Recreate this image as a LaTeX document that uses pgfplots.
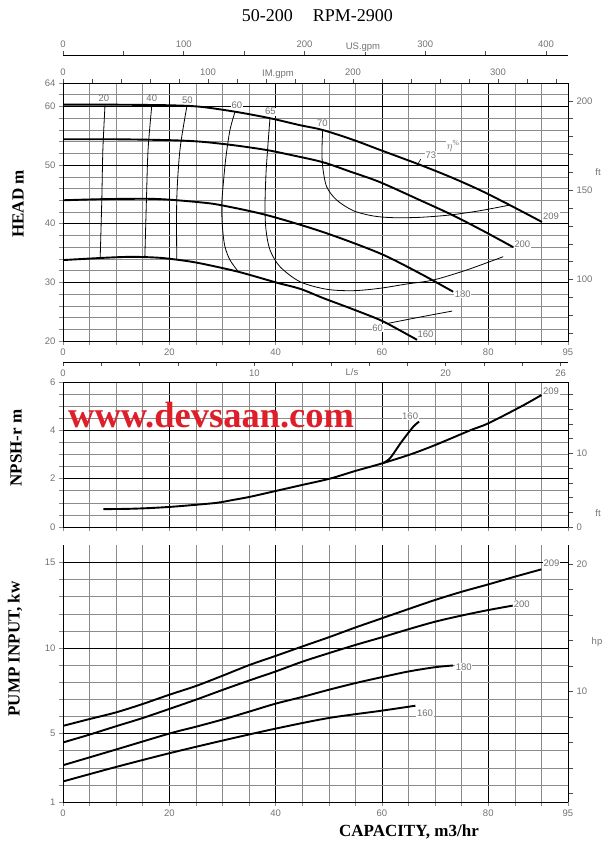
\documentclass[border=0pt]{standalone}
\usepackage{fontspec}
\setmainfont{Liberation Serif}
\newfontfamily\tickfont{Liberation Sans}
\usepackage{pgfplots}
\pgfplotsset{compat=1.18}
\definecolor{gridgray}{gray}{0.55}
\definecolor{labgray}{gray}{0.45}
\definecolor{wm}{RGB}{222,30,40}
\newcommand{\tf}{\tickfont\fontsize{9.5}{11}\selectfont}
\newcommand{\axlab}{\bfseries\fontsize{17}{17}\selectfont}
\tikzset{cl/.style={font=\tf, text=labgray, fill=white, inner sep=0.6pt}}
\pgfplotsset{
  base/.style={scale only axis, width=505pt, xmin=0, xmax=95,
    tick align=outside, major tick length=4pt, minor tick length=4pt,
    tick style={gridgray, line width=0.5pt},
    ticklabel style={font=\tf, text=labgray},
    /pgf/number format/assume math mode=true,
    /pgf/number format/1000 sep={}},
  panel/.style={base, xtick={0,20,40,60,80,95},
    minor xtick={5,10,15,25,30,35,45,50,55,65,70,75,85,90},
    grid=both, major grid style={black,line width=0.8pt},
    minor grid style={gridgray,line width=0.5pt},
    xtick pos=bottom, ytick pos=left,
    axis line style={black,line width=0.8pt}},
  sideax/.style={base, axis x line=none, axis y line*=right,
    y axis line style={black,line width=0.8pt,-},
    major tick length=5pt, minor tick length=5pt,
    tick style={black!70, line width=0.5pt}},
  topax/.style={base, height=1pt, ymin=0, ymax=1, axis y line=none,
    x axis line style={black, line width=0.8pt,-},
    tick style={black!70,line width=0.5pt}},
  pc/.style={black, line width=1.9pt, smooth, tension=0.5, no marks},
  ec/.style={black, line width=0.8pt, smooth, tension=0.5, no marks},
}
\begin{document}
\begin{tikzpicture}
\useasboundingbox (0pt,0pt) rectangle (614pt,856pt);

% ---------------- HEAD ----------------
\begin{axis}[panel, at={(63pt,515pt)}, anchor=south west, height=258pt,
  ymin=20, ymax=64, ytick={20,30,40,50,60,64},
  minor ytick={22,24,26,28,32,34,36,38,42,44,46,48,52,54,56,58,62}]
\addplot[pc] coordinates {(0,60.3)(10,60.3)(20,60.2)(25.8,59.95)(32.4,59.1)(38.9,58.0)(44.6,56.8)(48.8,56.0)(54.6,54.3)(59.6,52.6)(67,50.1)(72.8,48.0)(78.4,45.75)(84,43.2)(90.1,40.3)};
\addplot[pc] coordinates {(0,54.4)(10,54.4)(20,54.25)(25.8,54.0)(32,53.4)(38.3,52.57)(43,51.7)(48.85,50.5)(54,48.9)(59.6,47.1)(67.2,44.0)(73.2,41.5)(79,38.8)(84.7,36.0)};
\addplot[pc] coordinates {(0,44.0)(8,44.2)(16,44.25)(20,44.1)(25.8,43.65)(29.5,43.2)(38.2,41.5)(48.85,38.6)(59.6,34.95)(67.2,31.5)(73.4,28.4)};
\addplot[pc] coordinates {(0,33.8)(8,34.2)(13,34.35)(18,34.2)(22,33.8)(25.8,33.25)(33,31.8)(40.2,29.95)(44.6,28.9)(49,27.3)(54,25.6)(59.6,23.6)(63,22.0)(66.6,20.2)};
% efficiency
\addplot[ec] coordinates {(7.9,60.2)(7.5,52.6)(7.3,44.1)(7.0,34.3)};
\addplot[ec] coordinates {(16.7,60.1)(16.0,52.6)(15.7,44.2)(15.4,34.35)};
\addplot[ec] coordinates {(23.3,60.0)(22.0,52.6)(21.4,44.1)(21.4,33.85)};
\addplot[ec] coordinates {(32.36,59.10)(31.41,55.98)(30.66,51.43)(30.16,46.89)(29.85,42.90)(30.04,38.93)(30.47,36.08)(31.41,33.81)(32.98,31.82)};
\addplot[ec] coordinates {(61.1,23.0)(67,24.05)(73.2,25.1)};
\addplot[ec] coordinates {(38.94,57.98)(38.62,54.28)(38.19,48.60)(38.00,42.90)(38.19,38.93)(38.94,35.52)(40.82,32.67)(44.58,30.11)(49.6,28.82)(54.6,28.58)(59.63,28.99)(64.65,29.72)(69.66,30.40)(75.94,32.11)(82.83,34.38)};
\addplot[ec] coordinates {(48.85,55.98)(48.72,52.57)(48.85,49.72)(49.60,46.31)(51.48,44.04)(54.61,42.22)(58.37,41.32)(62.13,41.03)(67.16,41.09)(72.8,41.49)(78.44,42.22)(84.09,43.19)};
\draw[black, line width=0.6pt] (axis cs:67.3,51.0) -- (axis cs:66.7,50.1);
\node[cl] at (axis cs:7.7,61.35) {20};
\node[cl] at (axis cs:16.7,61.35) {40};
\node[cl] at (axis cs:23.4,61.1) {50};
\node[cl] at (axis cs:32.7,60.25) {60};
\node[cl] at (axis cs:39.0,59.1) {65};
\node[cl] at (axis cs:48.8,57.1) {70};
\node[cl] at (axis cs:69.2,51.7) {73};
\node[text=labgray, inner sep=0.5pt, fill=white, font=\fontsize{11}{11}\selectfont] at (axis cs:73.4,53.3) {$\eta^{\%}$};
\node[cl] at (axis cs:91.8,41.3) {209};
\node[cl] at (axis cs:86.4,36.5) {200};
\node[cl] at (axis cs:75.2,28.0) {180};
\node[cl] at (axis cs:68.2,21.2) {160};
\node[cl] at (axis cs:59.2,22.2) {60};
\node[font=\tf, text=labgray] at (axis cs:50,20) [yshift=-10pt] {m3/h};
\end{axis}
\begin{axis}[sideax, at={(63pt,515pt)}, anchor=south west, height=258pt,
  ymin=65.617, ymax=209.974, ytick={100,150,200},
  minor ytick={70,80,90,110,120,130,140,160,170,180,190}]
\end{axis}
\begin{axis}[base, at={(63pt,515pt)}, anchor=south west, height=258pt,
  xmax=348.29, ymin=0, ymax=1, axis y line=none, axis x line*=top,
  x axis line style={-,black,line width=0.8pt}, tick style={black!70,line width=0.5pt},
  xtick={0,100,200,300},
  minor xtick={20,40,60,80,120,140,160,180,220,240,260,280,320,340}]
\end{axis}
\begin{axis}[topax, at={(63pt,800pt)}, anchor=south west, xmax=418.27,
  axis x line*=top, xtick={0,100,200,300,400}, minor xtick={50,150,250,350}]
\end{axis}
\begin{axis}[topax, at={(63pt,494pt)}, anchor=south west, xmax=26.389,
  axis x line*=bottom, xtick={0,10,20,26}, minor xtick={2,4,6,8,12,14,16,18,22,24}]
\end{axis}

% ---------------- NPSH ----------------
\begin{axis}[panel, at={(63pt,329pt)}, anchor=south west, height=145pt,
  ymin=0, ymax=6, ytick={0,2,4,6},
  minor ytick={0.5,1,1.5,2.5,3,3.5,4.5,5,5.5}, xticklabels={}]
\node[anchor=base west, text=wm, font=\bfseries\fontsize{36.5}{36}\selectfont, inner sep=0pt] at (axis cs:0.94,4.1) {www.devsaan.com};
\addplot[pc] coordinates {(7.6,0.74)(12,0.75)(16,0.78)(20,0.83)(24,0.9)(28.9,1.0)(32,1.12)(35.2,1.25)(40.2,1.5)(45,1.74)(50.2,2.0)(55,2.32)(60,2.63)(65.3,3.0)(70,3.39)(76.6,4.0)(80,4.29)(86.3,5.0)(90,5.46)};
\addplot[pc] coordinates {(60,2.63)(61.5,2.84)(63.7,3.53)(65.9,4.15)(67.0,4.36)};
\node[cl] at (axis cs:65.3,4.58) {160};
\node[cl] at (axis cs:91.8,5.63) {209};
\end{axis}
\begin{axis}[sideax, at={(63pt,329pt)}, anchor=south west, height=145pt,
  ymin=0, ymax=19.685, ytick={0,10}, minor ytick={2,4,6,8,12,14,16,18}]
\end{axis}

% ---------------- POWER ----------------
\begin{axis}[panel, at={(63pt,54pt)}, anchor=south west, height=256.6pt,
  ymin=1, ymax=16, ytick={1,5,10,15},
  minor ytick={2,3,4,6,7,8,9,11,12,13,14},
  axis lines*=left, axis line style={-,black,line width=0.8pt}]
\addplot[pc] coordinates {(0,5.45)(5,5.85)(10,6.24)(15,6.73)(20,7.27)(25,7.78)(30,8.38)(35,9.0)(40,9.54)(45,10.09)(50,10.63)(55,11.2)(60,11.74)(65,12.28)(70,12.81)(75,13.29)(80,13.72)(85,14.17)(90,14.6)};
\addplot[pc] coordinates {(0,4.48)(5,4.94)(10,5.43)(15,5.91)(20,6.44)(25,6.98)(30,7.55)(35,8.1)(40,8.63)(45,9.2)(50,9.7)(55,10.18)(60,10.63)(65,11.1)(70,11.54)(75,11.9)(80,12.22)(84.6,12.48)};
\addplot[pc] coordinates {(0,3.15)(10,4.07)(20,5.0)(25,5.4)(30,5.82)(35,6.28)(40,6.75)(45,7.14)(50,7.56)(55,7.95)(60,8.3)(65,8.63)(70,8.88)(73.4,8.98)};
\addplot[pc] coordinates {(0,2.2)(10,3.05)(20,3.85)(30,4.59)(40,5.29)(50,5.91)(60,6.34)(66.3,6.63)};
\node[cl] at (axis cs:91.9,14.97) {209};
\node[cl] at (axis cs:86.3,12.57) {200};
\node[cl] at (axis cs:75.4,8.87) {180};
\node[cl] at (axis cs:68.1,6.2) {160};
\end{axis}
\begin{axis}[sideax, at={(63pt,54pt)}, anchor=south west, height=256.6pt,
  ymin=1.341, ymax=21.456, ytick={10,20}, minor ytick={2,4,6,8,12,14,16,18}]
\end{axis}

% ---------------- texts ----------------
\node[anchor=base west, font=\fontsize{18}{18}\selectfont, inner sep=0pt] at (241.7pt,834.3pt) {50-200};
\node[anchor=base west, font=\fontsize{18}{18}\selectfont, inner sep=0pt] at (312.7pt,834.3pt) {RPM-2900};
\node[rotate=90, font=\axlab] at (18pt,652pt) {HEAD m};
\node[rotate=90, font=\axlab] at (16pt,408pt) {NPSH-r m};
\node[rotate=90, font=\axlab] at (15pt,207pt) {PUMP INPUT, kw};
\node[anchor=base, font=\axlab, inner sep=0pt] at (409pt,19pt) {CAPACITY, m3/hr};
\node[font=\tf, text=labgray] at (598pt,684pt) {ft};
\node[font=\tf, text=labgray] at (598pt,343pt) {ft};
\node[font=\tf, text=labgray] at (597pt,214pt) {hp};
\node[font=\tf, text=labgray, fill=white, inner sep=1pt] at (363pt,809pt) {US.gpm};
\node[font=\tf, text=labgray, fill=white, inner sep=1pt] at (278pt,782pt) {IM.gpm};
\node[font=\tf, text=labgray, fill=white, inner sep=1pt] at (352pt,484pt) {L/s};
\end{tikzpicture}
\end{document}
